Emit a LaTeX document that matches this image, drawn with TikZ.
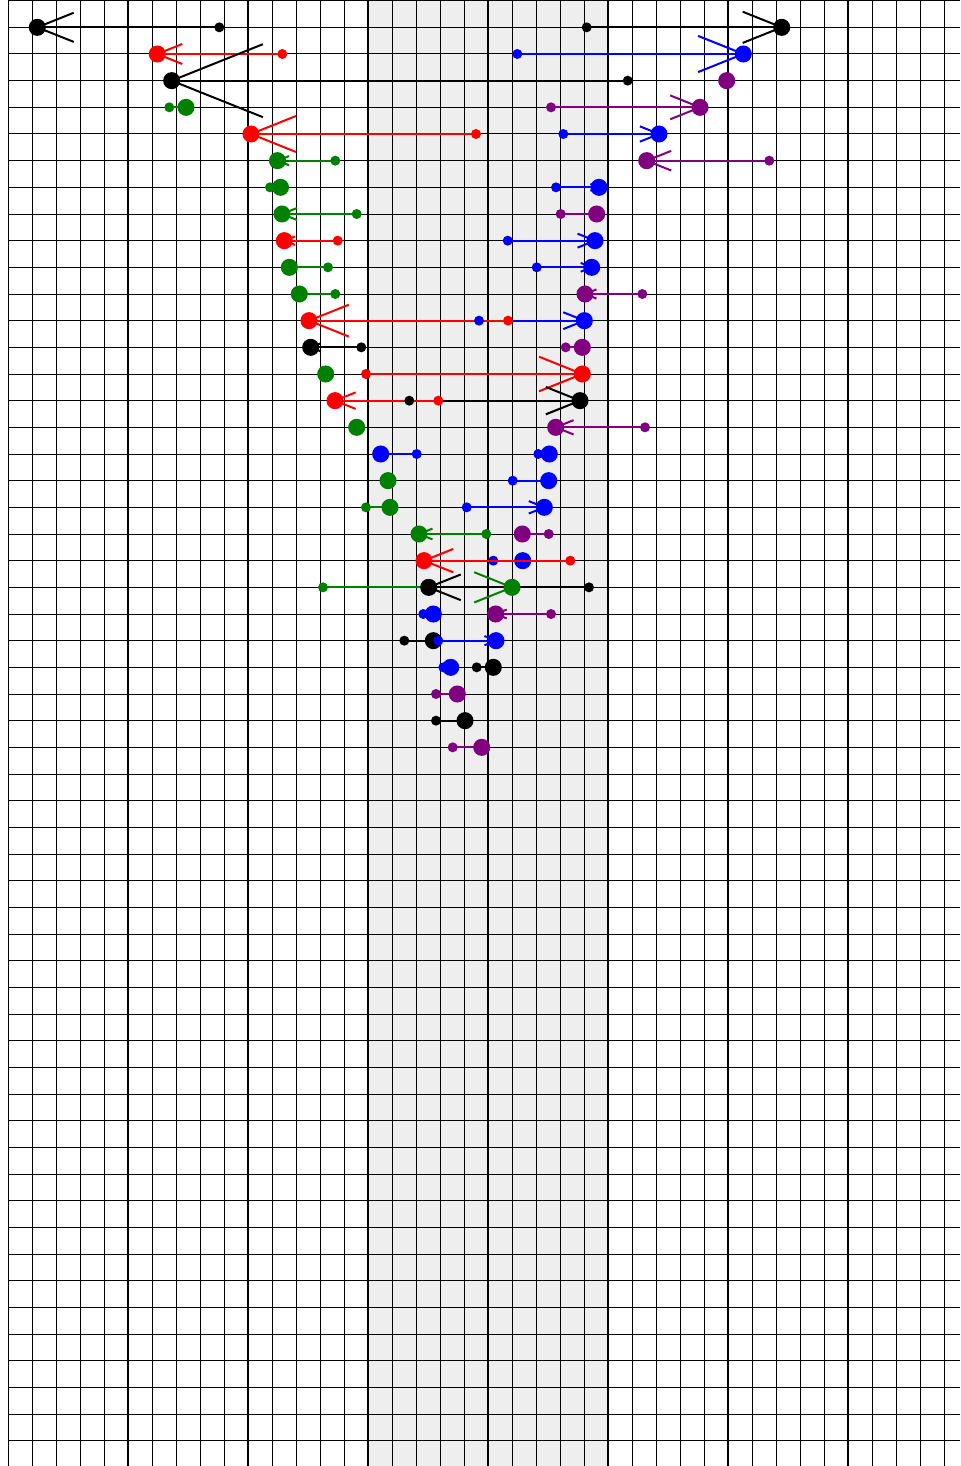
\documentclass[tikz,border=0pt]{standalone}
\definecolor{bandgray}{RGB}{238,238,238}
\definecolor{vgreen}{RGB}{0,128,0}
\definecolor{vpurple}{RGB}{128,0,128}
% #1 id, #2 colour, #3 row, #4 tail x, #5 head x
\newcommand{\vecL}[5]{%
  \pgfmathsetmacro{\vy}{2/3+80/3*#3}%
  \pgfmathsetmacro{\hx}{#5+0.2*(#4-#5)}%
  \pgfmathsetmacro{\hw}{0.08*abs(#4-#5)}%
  \coordinate (t#1) at (#4,\vy);%
  \coordinate (h#1) at (#5,\vy);%
  \coordinate (a#1) at (\hx,\vy-\hw);%
  \coordinate (b#1) at (\hx,\vy+\hw);%
  \draw[vecline,#2] (t#1) -- (h#1);%
  \draw[vecline,#2] (h#1) -- (a#1) (h#1) -- (b#1);%
}
\newcommand{\vecD}[2]{%
  \fill[#2] (t#1) circle[radius=3.75pt];%
  \fill[#2] (h#1) circle[radius=6.4pt];%
}
\begin{document}
\begin{tikzpicture}[x=0.75pt,y=-0.75pt,
  vecline/.style={line width=1.5pt},
  gridthin/.style={line width=0.75pt,black},
  gridthick/.style={line width=1.5pt,black}]
\useasboundingbox (0,0) rectangle (960,1466);
\fill[white] (0,0) rectangle (960,1466);
\fill[bandgray] (368,0) rectangle (608,1466);
\foreach \i in {0,...,39} \draw[gridthin] ({8+24*\i},0) -- ({8+24*\i},1466);
\foreach \k in {0,...,54} \draw[gridthin] (8,{2/3+80/3*\k}) -- (960,{2/3+80/3*\k});
\foreach \x in {128,248,...,848} \draw[gridthick] (\x,0) -- (\x,1466);
% lines
\vecL{r1a}{black}{1}{219.3}{37.3}
\vecL{r1b}{black}{1}{586.7}{781.7}
\vecL{r2a}{red}{2}{282.3}{157.3}
\vecL{r2b}{blue}{2}{517.3}{743.3}
\vecL{r3a}{black}{3}{627.7}{171.7}
\vecL{r3b}{vpurple}{3}{726.7}{726.7}
\vecL{r4a}{vgreen}{4}{169.3}{186}
\vecL{r4b}{vpurple}{4}{551}{700}
\vecL{r5a}{red}{5}{476}{251}
\vecL{r5b}{blue}{5}{563.3}{659}
\vecL{r6a}{vgreen}{6}{335.3}{277.5}
\vecL{r6b}{vpurple}{6}{769.3}{646.7}
\vecL{r7a}{vgreen}{7}{270}{280.5}
\vecL{r7b}{blue}{7}{556}{599}
\vecL{r8a}{vgreen}{8}{356.7}{282}
\vecL{r8b}{vpurple}{8}{560.7}{596.7}
\vecL{r9a}{red}{9}{337.7}{284.3}
\vecL{r9b}{blue}{9}{507.7}{595}
\vecL{r10a}{vgreen}{10}{328}{289.3}
\vecL{r10b}{blue}{10}{536.7}{591.7}
\vecL{r11a}{vgreen}{11}{335.3}{299.3}
\vecL{r11b}{vpurple}{11}{642.3}{585}
\vecL{r12b}{blue}{12}{479}{584.3}
\vecL{r12a}{red}{12}{508}{309}
\vecL{r13a}{black}{13}{361.3}{310.7}
\vecL{r13b}{vpurple}{13}{565.7}{582.3}
\vecL{r14a}{vgreen}{14}{329}{325.7}
\vecL{r14b}{red}{14}{366}{582.3}
\vecL{r15b}{black}{15}{409.3}{580}
\vecL{r15a}{red}{15}{438.3}{335}
\vecL{r16a}{vgreen}{16}{356.7}{356.7}
\vecL{r16b}{vpurple}{16}{645}{555.7}
\vecL{r17a}{blue}{17}{416.7}{380.7}
\vecL{r17b}{blue}{17}{538.3}{549.3}
\vecL{r18a}{vgreen}{18}{388}{388}
\vecL{r18b}{blue}{18}{512.7}{548.7}
\vecL{r19a}{vgreen}{19}{366}{390}
\vecL{r19b}{blue}{19}{466.7}{544.3}
\vecL{r20a}{vgreen}{20}{486.3}{419}
\vecL{r20b}{vpurple}{20}{548.7}{522.3}
\vecL{r22a}{vgreen}{22}{323}{512}
\vecL{r22b}{black}{22}{589}{428.7}
\vecL{r23a}{blue}{23}{423.3}{433.3}
\vecL{r23b}{vpurple}{23}{551}{495.7}
\vecL{r24a}{black}{24}{404.3}{433.3}
\vecL{r24b}{blue}{24}{438.3}{496}
\vecL{r25a}{blue}{25}{443.3}{450.7}
\vecL{r25b}{black}{25}{476.7}{493.3}
\vecL{r26a}{vpurple}{26}{436}{457.3}
\vecL{r27a}{black}{27}{436}{465}
\vecL{r28a}{vpurple}{28}{452.7}{481.7}
% dots
\vecD{r1a}{black}\vecD{r1b}{black}
\vecD{r2a}{red}\vecD{r2b}{blue}
\vecD{r3a}{black}\vecD{r3b}{vpurple}
\vecD{r4a}{vgreen}\vecD{r4b}{vpurple}
\vecD{r5a}{red}\vecD{r5b}{blue}
\vecD{r6a}{vgreen}\vecD{r6b}{vpurple}
\vecD{r7a}{vgreen}\vecD{r7b}{blue}
\vecD{r8a}{vgreen}\vecD{r8b}{vpurple}
\vecD{r9a}{red}\vecD{r9b}{blue}
\vecD{r10a}{vgreen}\vecD{r10b}{blue}
\vecD{r11a}{vgreen}\vecD{r11b}{vpurple}
\vecD{r12b}{blue}\vecD{r12a}{red}
\vecD{r13a}{black}\vecD{r13b}{vpurple}
\vecD{r14a}{vgreen}\vecD{r14b}{red}
\vecD{r15b}{black}\vecD{r15a}{red}
\vecD{r16a}{vgreen}\vecD{r16b}{vpurple}
\vecD{r17a}{blue}\vecD{r17b}{blue}
\vecD{r18a}{vgreen}\vecD{r18b}{blue}
\vecD{r19a}{vgreen}\vecD{r19b}{blue}
\vecD{r20a}{vgreen}\vecD{r20b}{vpurple}
\vecD{r22a}{vgreen}\vecD{r22b}{black}
\vecD{r23a}{blue}\vecD{r23b}{vpurple}
\vecD{r24a}{black}\vecD{r24b}{blue}
\vecD{r25a}{blue}\vecD{r25b}{black}
\vecD{r26a}{vpurple}
\vecD{r27a}{black}
\vecD{r28a}{vpurple}
% row 21: blue first, then red on top
\vecL{r21b}{blue}{21}{493.3}{522.7}
\vecD{r21b}{blue}
\vecL{r21a}{red}{21}{570.3}{424}
\vecD{r21a}{red}
\end{tikzpicture}
\end{document}
